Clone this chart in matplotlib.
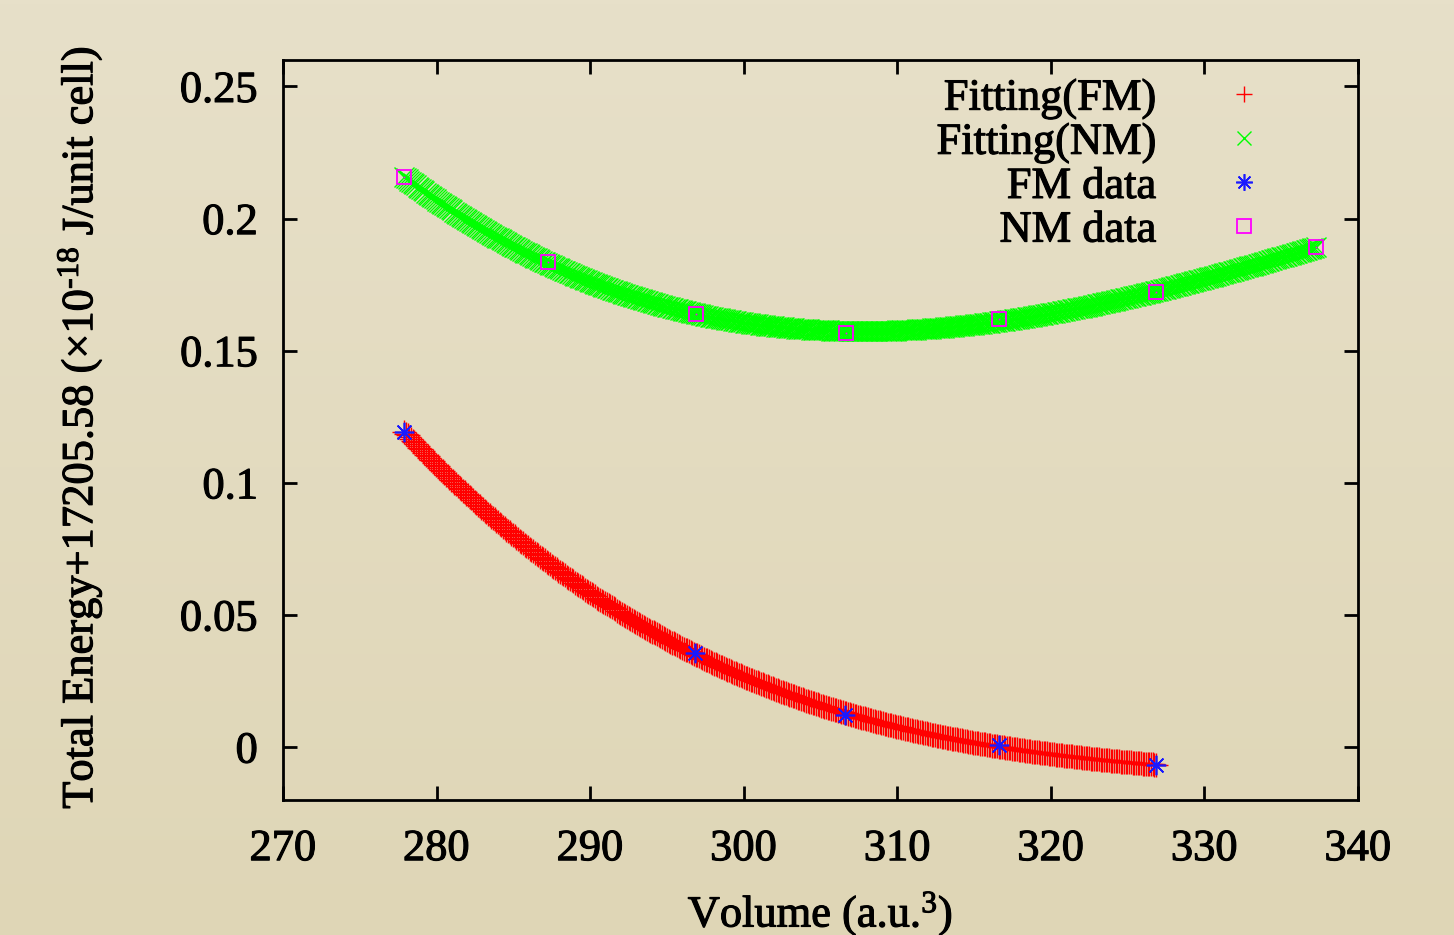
import numpy as np
import matplotlib
matplotlib.use("Agg")
import matplotlib.pyplot as plt
import matplotlib.patheffects as pe

# Data (volume in a.u.^3, energy offset in 1e-18 J/unit cell)
fm_volume = [277.9, 296.85, 306.6, 316.6, 326.85]
fm_energy = [0.1193, 0.0355, 0.0121, 0.0008, -0.0068]

nm_volume = [277.9, 287.25, 296.9, 306.65, 316.6, 326.85, 337.25]
nm_energy = [0.2156, 0.1835, 0.1639, 0.1567, 0.1620, 0.1722, 0.1892]

x_ticks = [270, 280, 290, 300, 310, 320, 330, 340]
y_ticks = [0, 0.05, 0.1, 0.15, 0.2, 0.25]
y_labels = ['0', '0.05', '0.1', '0.15', '0.2', '0.25']

plt.rcParams['font.family'] = ['Liberation Serif', 'DejaVu Serif']
plt.rcParams['mathtext.fontset'] = 'custom'
plt.rcParams['mathtext.rm'] = 'Liberation Serif'
plt.rcParams['mathtext.default'] = 'regular'

# slightly heavier strokes, like gnuplot's Times rendering
heavy = [pe.withStroke(linewidth=0.8, foreground='black')]

fig = plt.figure(figsize=(14.54, 9.35), dpi=100)

# beige gradient background
bg = fig.add_axes([0, 0, 1, 1], zorder=-10)
grad = np.linspace(0, 1, 256).reshape(-1, 1)
top = np.array([0xE7, 0xE0, 0xC9]) / 255
bottom = np.array([0xDF, 0xD6, 0xB6]) / 255
img = top + (bottom - top) * grad[:, :, None]
bg.imshow(img, aspect='auto', extent=[0, 1, 0, 1])
bg.axis('off')

ax = fig.add_axes([0.1946, 0.1444, 0.7393, 0.7914])
ax.set_facecolor('none')

# fitted curves (cubic fit through the data), drawn as dense point markers like gnuplot
fm_fit = np.poly1d(np.polyfit(fm_volume, fm_energy, 3))
nm_fit = np.poly1d(np.polyfit(nm_volume, nm_energy, 3))
v_fm = np.linspace(min(fm_volume), max(fm_volume), 450)
v_nm = np.linspace(min(nm_volume), max(nm_volume), 550)

ax.plot(v_fm, fm_fit(v_fm), ls='none', marker='+', ms=17, mew=1,
        color='#FF0000', label='Fitting(FM)')
ax.plot(v_nm, nm_fit(v_nm), ls='none', marker='x', ms=14, mew=1,
        color='#00FF00', label='Fitting(NM)')
ax.plot(fm_volume, fm_energy, ls='none', marker=(8, 2, 0), ms=14, mew=1.2,
        color='#1A1AFF', label='FM data')
ax.plot(nm_volume, nm_energy, ls='none', marker='s', ms=9.5, mew=1.3,
        mfc='none', color='#FF00FF', label='NM data')
ax.plot(nm_volume, nm_energy, ls='none', marker='s', ms=1.2, mew=0,
        color='#FF00FF')

ax.set_xlim(270, 340)
ax.set_ylim(-0.02, 0.26)
ax.set_xticks(x_ticks)
ax.set_yticks(y_ticks)
ax.set_yticklabels(y_labels)
ax.tick_params(direction='in', length=10, width=2, labelsize=32,
               top=True, right=True)
ax.tick_params(axis='x', pad=21)
ax.tick_params(axis='y', pad=18)
for s in ax.spines.values():
    s.set_linewidth(2)
for t in ax.get_xticklabels() + ax.get_yticklabels():
    t.set_path_effects(heavy)

ax.set_xlabel('Volume (a.u.$^{3}$)', fontsize=32, path_effects=heavy)
ax.xaxis.set_label_coords(0.5, -0.122)
ax.set_ylabel('Total Energy+17205.58 (×10$^{\u2010 18}$ J/unit cell)',
              fontsize=32, path_effects=heavy)
ax.yaxis.set_label_coords(-0.166, 0.504)

leg = ax.legend(loc='upper right', bbox_to_anchor=(0.935, 0.975), frameon=False,
                markerfirst=False, fontsize=32, handlelength=2, handletextpad=0.96,
                labelspacing=0.08, borderpad=0, borderaxespad=0, numpoints=1)
for t in leg.get_texts():
    t.set_path_effects(heavy)
for h, size in zip(leg.legend_handles, [11, 10, 12, 9.5]):
    h.set_markersize(size)

fig.savefig('out.png', dpi=100)
